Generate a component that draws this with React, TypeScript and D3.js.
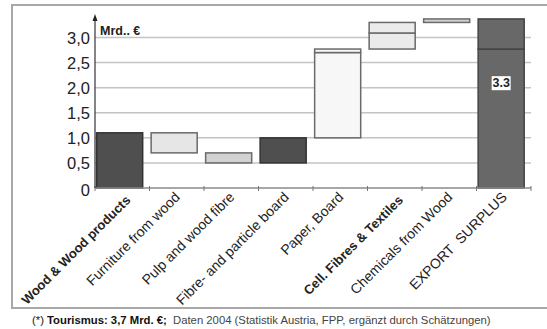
import React from "react";
import * as d3 from "d3";

// Waterfall of the Austrian forest-based sector trade balance (Mrd. €)
const categories = [
  "Wood & Wood products",
  "Furniture from wood",
  "Pulp and wood fibre",
  "Fibre- and particle board",
  "Paper, Board",
  "Cell. Fibres & Textiles",
  "Chemicals from Wood",
  "EXPORT  SURPLUS",
];
const boldCategories = ["Wood & Wood products", "Cell. Fibres & Textiles"];

// Change contributed by each category (some split into sub-items)
const steps: number[][] = [
  [1.1],
  [-0.4],
  [-0.2],
  [0.5],
  [1.7, 0.07],
  [0.32, 0.21],
  [0.07],
];
const stepFills = ["#4f4f4f", "#e6e6e6", "#d2d2d2", "#4f4f4f", "#f7f7f7", "#ebebeb", "#d0d0d0"];
const stepStrokes = ["#333333", "#6a6a6a", "#6a6a6a", "#333333", "#6a6a6a", "#6a6a6a", "#6a6a6a"];
const totalFill = "#686868";

const yTicks = [0, 0.5, 1, 1.5, 2, 2.5, 3];
const tickLabels = ["0", "0,5", "1,0", "1,5", "2,0", "2,5", "3,0"];
const unitLabel = "Mrd.. €";

const W = 547;
const H = 329;

export default function App() {
  const x = d3.scaleBand<string>().domain(categories).range([95, 531]).paddingInner(0).paddingOuter(0);
  const y = d3.scaleLinear().domain([0, 3]).range([188, 37.5]);
  const bw = x.bandwidth();
  const barX = (c: string) => (x(c) as number) + bw * 0.03;
  const barW = bw * 0.845;

  // Build floating segments from running cumulative sum
  type Seg = { cat: string; y0: number; y1: number; fill: string; stroke: string };
  const segs: Seg[] = [];
  let run = 0;
  const runAfter: number[] = [];
  steps.forEach((parts, i) => {
    parts.forEach((d) => {
      segs.push({ cat: categories[i], y0: run, y1: run + d, fill: stepFills[i], stroke: stepStrokes[i] });
      run += d;
    });
    runAfter.push(run);
  });
  const total = run;
  const split = runAfter[4];
  const totalCat = categories[categories.length - 1];
  segs.push({ cat: totalCat, y0: 0, y1: split, fill: totalFill, stroke: "#444" });
  segs.push({ cat: totalCat, y0: split, y1: total, fill: totalFill, stroke: "#444" });
  const totalLabel = (Math.floor(total * 10) / 10).toFixed(1);
  const labelCx = barX(totalCat) + barW / 2;
  const labelCy = y(total * 0.62);

  const boundaries = [...categories.map((c) => x(c) as number), x.range()[1]];

  return (
    <svg
      width={W}
      height={H}
      style={{ position: "absolute", left: 0, top: 0, background: "#fff", fontFamily: "Arial, 'Liberation Sans', sans-serif" }}
    >
      <rect x={0} y={0} width={W} height={H} fill="#fff" />
      {/* frame */}
      <rect x={12} y={5} width={W} height={303} fill="none" stroke="#a8a8a8" strokeWidth={2} />

      {/* gridlines */}
      {yTicks.slice(1).map((t) => (
        <line key={t} x1={95} x2={531} y1={y(t)} y2={y(t)} stroke="#c4c4c4" strokeWidth={1.5} />
      ))}

      {/* bars */}
      {segs.map((s, i) => (
        <rect
          key={i}
          x={barX(s.cat)}
          width={barW}
          y={y(Math.max(s.y0, s.y1))}
          height={Math.abs(y(s.y0) - y(s.y1))}
          fill={s.fill}
          stroke={s.stroke}
          strokeWidth={1.5}
        />
      ))}

      {/* total label */}
      <rect x={labelCx - 9.5} y={labelCy - 7} width={19} height={14} fill="#fff" />
      <text x={labelCx} y={labelCy} textAnchor="middle" dominantBaseline="central" fontSize={12.5} fontWeight="bold" fill="#222">
        {totalLabel}
      </text>

      {/* x axis */}
      <line x1={95} x2={531} y1={188} y2={188} stroke="#8a8a8a" strokeWidth={1.5} />
      {boundaries.map((b, i) => (
        <line key={i} x1={b} x2={b} y1={186} y2={191} stroke="#777" strokeWidth={1} />
      ))}

      {/* y axis with arrow */}
      <line x1={95} x2={95} y1={188} y2={19} stroke="#333" strokeWidth={1.2} />
      <path d="M95,14 L92.5,21 L97.5,21 Z" fill="#222" />
      {yTicks.map((t, i) => (
        <text
          key={t}
          x={90}
          y={y(t) + (t === 0 ? 2 : 0)}
          textAnchor="end"
          dominantBaseline="central"
          fontSize={16.5}
          fill="#222"
        >
          {tickLabels[i]}
        </text>
      ))}
      <text x={100} y={34.5} fontSize={12.5} fontWeight="bold" fill="#222">
        {unitLabel}
      </text>

      {/* category labels */}
      {categories.map((c) => {
        const bold = boldCategories.includes(c);
        const cx = (x(c) as number) + bw / 2 + (bold ? 9 : 4);
        const cy = bold ? 201 : 198;
        return (
          <text
            key={c}
            transform={`translate(${cx},${cy}) rotate(-45)`}
            textAnchor="end"
            fontSize={bold ? 13 : 14}
            fontWeight={bold ? "bold" : "normal"}
            fill="#222"
            style={{ whiteSpace: "pre" }}
          >
            {c}
          </text>
        );
      })}

      {/* footnote */}
      <text x={32} y={324} fontSize={11.3} fill="#444" style={{ whiteSpace: "pre" }}>
        <tspan fill="#222">(*) </tspan>
        <tspan fontWeight="bold" fill="#111">Tourismus: 3,7 Mrd. €;</tspan>
        <tspan>{"  Daten 2004 (Statistik Austria, FPP, ergänzt durch Schätzungen)"}</tspan>
      </text>
    </svg>
  );
}
